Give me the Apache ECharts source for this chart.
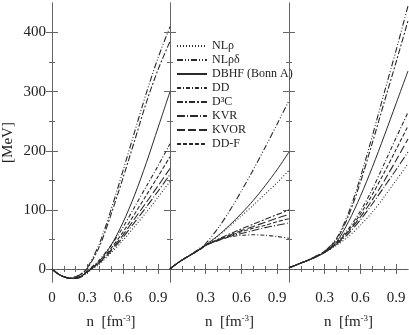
<!DOCTYPE html>
<html>
<head>
<meta charset="utf-8">
<script src="https://cdn.jsdelivr.net/npm/echarts@6/dist/echarts.min.js"></script>
<style>
html, body { margin: 0; padding: 0; background: #fff; }
#chart { width: 409px; height: 335px; }
</style>
</head>
<body>
<div id="chart"></div>
<script>
// densities n [fm^-3] shared by all curves
var density = [0, 0.05, 0.1, 0.15, 0.2, 0.25, 0.3, 0.4, 0.5, 0.6, 0.7, 0.8, 0.9, 1.0];

var models = ['NLρ', 'NLρδ', 'DBHF (Bonn A)', 'DD', 'D³C', 'KVR', 'KVOR', 'DD-F'];

// left panel: symmetric matter E/A [MeV]
var snmNLr   = [0, -8, -13, -16, -16, -13, -6,  8,  27,  48,  72,  96, 122, 148];
var snmNLrd  = [0, -8, -13, -15, -13,  -8,  2, 42, 100, 165, 232, 298, 358, 410];
var snmDBHF  = [0, -8, -13, -16, -15, -12, -5, 13,  40,  78, 125, 180, 240, 300];
var snmDD    = [0, -8, -13, -16, -15, -11, -3, 15,  40,  70, 105, 140, 175, 212];
var snmD3C   = [0, -8, -13, -15, -13,  -8,  1, 37,  92, 153, 217, 282, 338, 385];
var snmKVR   = [0, -8, -13, -16, -16, -13, -5, 10,  30,  53,  79, 105, 132, 160];
var snmKVOR  = [0, -8, -13, -16, -16, -12, -4, 11,  32,  57,  85, 113, 141, 170];
var snmDDF   = [0, -8, -13, -16, -15, -12, -4, 12,  35,  62,  93, 125, 157, 190];

// middle panel: symmetry energy [MeV]
var symNLr   = [0, 8, 15, 21, 27, 33, 40, 55, 72,  90, 108, 127, 146, 167];
var symNLrd  = [0, 8, 15, 21, 28, 35, 43, 68, 98, 132, 168, 206, 245, 285];
var symDBHF  = [0, 8, 15, 21, 27, 34, 41, 56, 74,  94, 116, 141, 168, 198];
var symDD    = [0, 8, 15, 21, 27, 33, 40, 48, 54,  57,  58,  57,  55,  52];
var symD3C   = [0, 8, 15, 21, 27, 33, 40, 50, 59,  68,  76,  84,  92, 100];
var symKVR   = [0, 8, 15, 21, 27, 33, 40, 48, 55,  60,  65,  70,  74,  78];
var symKVOR  = [0, 8, 15, 21, 27, 33, 40, 49, 57,  65,  72,  79,  86,  92];
var symDDF   = [0, 8, 15, 21, 27, 33, 40, 49, 56,  63,  69,  74,  80,  85];

// right panel: neutron matter E/A [MeV]
var pnmNLr   = [2, 6, 10, 14, 18, 23, 28, 40, 55,  74,  96, 122, 150, 178];
var pnmNLrd  = [2, 6, 10, 14, 19, 24, 30, 52, 95, 155, 225, 298, 370, 445];
var pnmDBHF  = [2, 6, 10, 14, 18, 23, 29, 46, 80, 123, 172, 225, 280, 335];
var pnmDD    = [2, 6, 10, 14, 18, 23, 29, 45, 68,  98, 135, 178, 222, 265];
var pnmD3C   = [2, 6, 10, 14, 19, 24, 30, 50, 90, 147, 213, 282, 350, 420];
var pnmKVR   = [2, 6, 10, 14, 18, 23, 28, 42, 60,  83, 110, 139, 168, 198];
var pnmKVOR  = [2, 6, 10, 14, 18, 23, 28, 43, 63,  88, 117, 149, 184, 220];
var pnmDDF   = [2, 6, 10, 14, 18, 23, 29, 44, 65,  93, 126, 163, 202, 242];

var panels = [
  [snmNLr, snmNLrd, snmDBHF, snmDD, snmD3C, snmKVR, snmKVOR, snmDDF],
  [symNLr, symNLrd, symDBHF, symDD, symD3C, symKVR, symKVOR, symDDF],
  [pnmNLr, pnmNLrd, pnmDBHF, pnmDD, pnmD3C, pnmKVR, pnmKVOR, pnmDDF]
];

var xMajor = [0.3, 0.6, 0.9];
var xMinor = [0.1, 0.2, 0.4, 0.5, 0.7, 0.8];
var yMajor = [0, 100, 200, 300, 400];
var yMinor = [50, 150, 250, 350];

var dashes = [
  [1, 2],
  [6, 2, 1, 2, 1, 2],
  'solid',
  [4, 2, 1, 2],
  [6, 2, 2, 2],
  [8, 2, 1, 2],
  [8, 3],
  [4, 2]
];

var serif = 'Liberation Serif';
var ink = '#222';
var frame = '#666';

var chart = echarts.init(document.getElementById('chart'));

var grids = [
  { left: 52, top: 3, width: 118, height: 285 },
  { left: 170, top: 3, width: 119, height: 285 },
  { left: 289, top: 3, width: 119, height: 285 }
];

var xAxes = [], yAxes = [], series = [];

grids.forEach(function (g, p) {
  ['bottom', 'top'].forEach(function (pos) {
    var major = {
      gridIndex: p, type: 'value', min: 0, max: 1.0, position: pos,
      axisLine: { show: true, lineStyle: { color: frame, width: 1 } },
      splitLine: { show: false },
      axisTick: { show: true, inside: true, length: 5, customValues: xMajor, lineStyle: { color: frame } },
      axisLabel: { show: false }
    };
    if (pos === 'bottom') {
      major.axisLabel = {
        show: true, margin: 9, color: ink, fontFamily: serif, fontSize: 15,
        customValues: p === 0 ? [0, 0.3, 0.6, 0.9] : xMajor,
        formatter: function (v) { return v === 0 ? '0' : v.toFixed(1); }
      };
      major.name = 'n  [fm{s|-3}]';
      major.nameLocation = 'middle';
      major.nameGap = 33;
      major.nameTextStyle = {
        color: ink, fontFamily: serif, fontSize: 15,
        rich: { s: { fontSize: 9, lineHeight: 9, padding: [0, 0, 7, 0], fontFamily: serif, color: ink, verticalAlign: 'bottom' } }
      };
    }
    xAxes.push(major);
    xAxes.push({
      gridIndex: p, type: 'value', min: 0, max: 1.0, position: pos,
      axisLine: { show: false }, splitLine: { show: false }, axisLabel: { show: false },
      axisTick: { show: true, inside: true, length: 3, customValues: xMinor, lineStyle: { color: frame } }
    });
  });
  ['left', 'right'].forEach(function (pos) {
    var major = {
      gridIndex: p, type: 'value', min: -22, max: 450, position: pos,
      axisLine: { show: true, lineStyle: { color: frame, width: 1 } },
      splitLine: { show: false },
      axisTick: { show: true, inside: true, length: 6, customValues: yMajor, lineStyle: { color: frame } },
      axisLabel: { show: false }
    };
    if (p === 0 && pos === 'left') {
      major.axisLabel = {
        show: true, margin: 6, color: ink, fontFamily: serif, fontSize: 15,
        customValues: yMajor
      };
      major.name = '[MeV]';
      major.nameLocation = 'middle';
      major.nameRotate = 90;
      major.nameGap = 36;
      major.nameTextStyle = { color: ink, fontFamily: serif, fontSize: 15 };
    }
    yAxes.push(major);
    yAxes.push({
      gridIndex: p, type: 'value', min: -22, max: 450, position: pos,
      axisLine: { show: false }, splitLine: { show: false }, axisLabel: { show: false },
      axisTick: { show: true, inside: true, length: 3, customValues: yMinor, lineStyle: { color: frame } }
    });
  });

  panels[p].forEach(function (vals, m) {
    var s = {
      name: models[m],
      type: 'line',
      xAxisIndex: p * 4,
      yAxisIndex: p * 4,
      data: density.map(function (n, i) { return [n, vals[i]]; }),
      smooth: 0.3,
      symbol: 'none',
      silent: true,
      lineStyle: { color: '#2a2a2a', width: m === 2 ? 1 : 1.1, type: dashes[m] },
      itemStyle: { color: '#2a2a2a' }
    };
    if (m === 0) {
      s.markLine = {
        silent: true, symbol: 'none', label: { show: false },
        lineStyle: { type: [3, 2], color: '#555', width: 1 },
        data: [{ yAxis: 0 }]
      };
    }
    series.push(s);
  });
});

var option = {
  animation: false,
  backgroundColor: '#fff',
  grid: grids,
  xAxis: xAxes,
  yAxis: yAxes,
  legend: {
    data: models,
    orient: 'vertical',
    left: 176,
    top: 40,
    padding: 0,
    itemGap: 2,
    itemWidth: 30,
    itemHeight: 10,
    selectedMode: false,
    itemStyle: { opacity: 0 },
    textStyle: { color: ink, fontFamily: serif, fontSize: 12, lineHeight: 10 }
  },
  series: series
};

chart.setOption(option);
</script>
</body>
</html>
